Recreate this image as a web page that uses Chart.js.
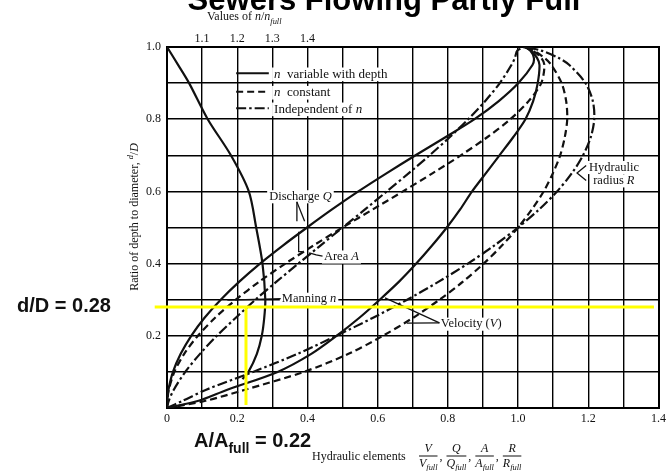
<!DOCTYPE html>
<html><head><meta charset="utf-8">
<script src="https://cdn.jsdelivr.net/npm/chart.js@4.4.1/dist/chart.umd.min.js"></script>
<style>html,body{margin:0;padding:0;background:#fff}canvas{display:block}</style>
</head><body>
<canvas id="c" width="670" height="471"></canvas>
<script>
// ---- data ----
const depthRatio       = [0, 0.02, 0.05, 0.10, 0.15, 0.20, 0.25, 0.30, 0.35, 0.40, 0.45, 0.50, 0.55, 0.60, 0.65, 0.70, 0.75, 0.80, 0.85, 0.90, 0.95, 0.97, 0.99, 1.00];
const dischargeNVar    = [0, 0.001, 0.004, 0.017, 0.039, 0.069, 0.107, 0.153, 0.206, 0.265, 0.330, 0.399, 0.470, 0.545, 0.625, 0.708, 0.793, 0.876, 0.945, 1.001, 1.041, 1.045, 1.035, 1.02];
const dischargeNConst  = [0, 0.001, 0.005, 0.021, 0.049, 0.088, 0.137, 0.196, 0.263, 0.337, 0.417, 0.500, 0.586, 0.672, 0.756, 0.837, 0.912, 0.978, 1.030, 1.066, 1.075, 1.066, 1.042, 1.02];
const areaA            = [0, 0.005, 0.019, 0.052, 0.094, 0.142, 0.196, 0.252, 0.312, 0.374, 0.437, 0.500, 0.564, 0.626, 0.688, 0.748, 0.805, 0.858, 0.906, 0.948, 0.981, 0.991, 0.998, 1.02];
const velocityNVar     = [0, 0.090, 0.170, 0.315, 0.411, 0.483, 0.548, 0.606, 0.661, 0.710, 0.755, 0.797, 0.835, 0.869, 0.908, 0.947, 0.986, 1.021, 1.043, 1.056, 1.061, 1.054, 1.036, 1.02];
const velocityNConst   = [0, 0.110, 0.220, 0.390, 0.517, 0.615, 0.701, 0.776, 0.843, 0.902, 0.954, 1.000, 1.039, 1.073, 1.099, 1.120, 1.133, 1.140, 1.137, 1.124, 1.095, 1.075, 1.044, 1.02];
const hydraulicRadiusR = [0, 0.045, 0.110, 0.245, 0.372, 0.482, 0.587, 0.684, 0.774, 0.857, 0.932, 1.000, 1.060, 1.111, 1.153, 1.185, 1.207, 1.217, 1.213, 1.192, 1.146, 1.115, 1.066, 1.02];
const manningDepth     = [1.00, 0.95, 0.90, 0.80, 0.70, 0.60, 0.50, 0.40, 0.30, 0.25, 0.20, 0.15, 0.10, 0.08];
const manningNRatio    = [1.000, 1.032, 1.063, 1.116, 1.182, 1.233, 1.254, 1.272, 1.280, 1.277, 1.270, 1.256, 1.232, 1.215];

const xTickLabels   = ['0', '', '0.2', '', '0.4', '', '0.6', '', '0.8', '', '1.0', '', '1.2', '', '1.4'];
const yTickLabels   = ['', '', '0.2', '', '0.4', '', '0.6', '', '0.8', '', '1.0'];
const topTickLabels = ['', '1.1', '1.2', '1.3', '1.4'];

const markDepth = 0.28;   // d/D
const markArea  = 0.225;  // A/Afull read on the chart

// ---- helpers ----
const pts = (xs, ys) => xs.map((v, i) => ({x: v, y: ys[i]}));
const INK = '#111';
const DASH = [7, 4];
const DASHDOT = [10, 3, 2.5, 3];

function segFont(s, size, fam) {
  const sz = (s.sub || s.sup) ? size * 0.7 : size;
  return `${s.it ? 'italic ' : ''}${s.b ? 'bold ' : ''}${sz}px ${fam || '"Liberation Serif", serif'}`;
}
function measureRich(ctx, segs, size, fam) {
  let w = 0;
  for (const s of segs) { ctx.font = segFont(s, size, fam); w += ctx.measureText(s.t).width; }
  return w;
}
function drawRich(ctx, segs, x, yBase, size, bg, fam) {
  const w = measureRich(ctx, segs, size, fam);
  if (bg) { ctx.fillStyle = '#fff'; ctx.fillRect(x - 2, yBase - size * 0.78, w + 4, size * 1.05); }
  ctx.fillStyle = INK; ctx.textAlign = 'left'; ctx.textBaseline = 'alphabetic';
  let cx = x;
  for (const s of segs) {
    ctx.font = segFont(s, size, fam);
    const dy = s.sub ? size * 0.3 : (s.sup ? -size * 0.38 : 0);
    ctx.fillText(s.t, cx, yBase + dy);
    cx += ctx.measureText(s.t).width;
  }
  return w;
}

// ---- annotation layout (data units) ----
const legendRows = [
  {y: 0.927, dash: [], segs: [{t: 'n', it: true}, {t: '  variable with depth'}]},
  {y: 0.876, dash: DASH, segs: [{t: 'n', it: true}, {t: '  constant'}]},
  {y: 0.830, dash: DASHDOT, segs: [{t: 'Independent of '}, {t: 'n', it: true}]}
];
const legendSampleX = [0.197, 0.290];
const legendTextX = 0.305;

const notes = [
  {x: 0.291, y: 0.588, segs: [{t: 'Discharge '}, {t: 'Q', it: true}]},
  {x: 0.447, y: 0.421, segs: [{t: 'Area '}, {t: 'A', it: true}]},
  {x: 0.327, y: 0.304, segs: [{t: 'Manning '}, {t: 'n', it: true}]},
  {x: 0.780, y: 0.235, segs: [{t: 'Velocity ('}, {t: 'V', it: true}, {t: ')'}]},
  {x: 1.202, y: 0.669, segs: [{t: 'Hydraulic'}]},
  {x: 1.214, y: 0.632, segs: [{t: 'radius '}, {t: 'R', it: true}]}
];
const leaders = [
  [[0.370, 0.571], [0.370, 0.517]],
  [[0.370, 0.571], [0.392, 0.517]],
  [[0.375, 0.488], [0.375, 0.433], [0.386, 0.433]],
  [[0.405, 0.430], [0.425, 0.424], [0.443, 0.421]],
  [[0.172, 0.299], [0.324, 0.303]],
  [[0.621, 0.305], [0.776, 0.236]],
  [[0.683, 0.235], [0.776, 0.236]],
  [[1.194, 0.672], [1.168, 0.651], [1.194, 0.630]]
];

const overlay = {
  id: 'overlay',
  afterDatasetsDraw(chart) {
    const {ctx, scales: {x, y}} = chart;
    const P = (a, b) => [x.getPixelForValue(a), y.getPixelForValue(b)];
    ctx.save();
    for (const r of legendRows) {
      const [x1, yy] = P(legendSampleX[0], r.y);
      const [x2] = P(legendSampleX[1], r.y);
      ctx.strokeStyle = INK; ctx.lineWidth = 2; ctx.setLineDash(r.dash);
      ctx.beginPath(); ctx.moveTo(x1, yy); ctx.lineTo(x2, yy); ctx.stroke();
      ctx.setLineDash([]);
      const [tx] = P(legendTextX, r.y);
      drawRich(ctx, r.segs, tx, yy + 4.3, 13, true);
    }
    for (const n of notes) {
      const [px, py] = P(n.x, n.y);
      drawRich(ctx, n.segs, px, py + 4.2, 12.5, true);
    }
    ctx.strokeStyle = INK; ctx.lineWidth = 1.3; ctx.setLineDash([]);
    for (const l of leaders) {
      ctx.beginPath();
      l.forEach((p, i) => { const [px, py] = P(p[0], p[1]); i ? ctx.lineTo(px, py) : ctx.moveTo(px, py); });
      ctx.stroke();
    }
    ctx.restore();
  },
  afterDraw(chart) {
    const {ctx, scales: {x, y}} = chart;
    ctx.save();
    ctx.strokeStyle = '#ffff00'; ctx.lineWidth = 3;
    ctx.beginPath();
    ctx.moveTo(x.getPixelForValue(-0.035), y.getPixelForValue(markDepth));
    ctx.lineTo(x.getPixelForValue(1.387), y.getPixelForValue(markDepth));
    ctx.moveTo(x.getPixelForValue(markArea), y.getPixelForValue(markDepth));
    ctx.lineTo(x.getPixelForValue(markArea), y.getPixelForValue(0.008));
    ctx.stroke();

    ctx.fillStyle = '#000'; ctx.textAlign = 'center'; ctx.textBaseline = 'alphabetic';
    ctx.font = 'bold 31px "Liberation Sans", Arial, sans-serif';
    ctx.fillText('Sewers Flowing Partly Full', 384, 10);

    drawRich(ctx, [{t: 'Values of '}, {t: 'n', it: true}, {t: '/'}, {t: 'n', it: true}, {t: 'full', it: true, sub: true}], 207, 20, 12);

    ctx.save();
    ctx.translate(134, 217); ctx.rotate(-Math.PI / 2);
    const ySegs = [{t: 'Ratio of depth to diameter, '}, {t: 'd', it: true, sup: true}, {t: '/'}, {t: 'D', it: true}];
    const yw = measureRich(ctx, ySegs, 12);
    drawRich(ctx, ySegs, -yw / 2, 4, 12);
    ctx.restore();

    const sans = '"Liberation Sans", Arial, sans-serif';
    drawRich(ctx, [{t: 'd/D = 0.28', b: true}], 17, 312, 20, false, sans);
    drawRich(ctx, [{t: 'A/A', b: true}, {t: 'full', b: true, sub: true}, {t: ' = 0.22', b: true}], 194, 447, 20, false, sans);

    drawRich(ctx, [{t: 'Hydraulic elements'}], 312, 460, 12);
    let fx = 419;
    const fr = ['V', 'Q', 'A', 'R'];
    fr.forEach((L, i) => {
      ctx.font = 'italic 12px "Liberation Serif", serif';
      const lw = ctx.measureText(L).width;
      ctx.font = 'italic 8.4px "Liberation Serif", serif';
      const sw = ctx.measureText('full').width;
      const w = lw + sw;
      ctx.fillStyle = INK;
      ctx.font = 'italic 12px "Liberation Serif", serif';
      ctx.textAlign = 'center';
      ctx.fillText(L, fx + w / 2, 452);
      ctx.textAlign = 'left';
      ctx.fillText(L, fx, 467);
      ctx.font = 'italic 8.4px "Liberation Serif", serif';
      ctx.fillText('full', fx + lw, 470);
      ctx.fillRect(fx, 455.5, w, 1);
      fx += w;
      if (i < fr.length - 1) {
        ctx.font = '12px "Liberation Serif", serif';
        ctx.fillText(',', fx + 2, 460);
        fx += 9;
      }
    });
    ctx.restore();
  }
};

const line = (data, dash, axis) => ({
  data, showLine: true, pointRadius: 0, borderColor: INK, borderWidth: 2.2,
  borderDash: dash, tension: 0.3, fill: false, xAxisID: axis || 'x', yAxisID: 'y'
});

Chart.defaults.font.family = '"Liberation Serif", serif';
Chart.defaults.color = INK;

new Chart(document.getElementById('c'), {
  type: 'scatter',
  data: {
    datasets: [
      line(pts(manningNRatio, manningDepth), [], 'x2'),
      line(pts(dischargeNVar, depthRatio), []),
      line(pts(dischargeNConst, depthRatio), DASH),
      line(pts(areaA, depthRatio), DASHDOT),
      line(pts(velocityNVar, depthRatio), []),
      line(pts(velocityNConst, depthRatio), DASH),
      line(pts(hydraulicRadiusR, depthRatio), DASHDOT)
    ]
  },
  options: {
    responsive: false, animation: false, devicePixelRatio: 1,
    layout: {padding: 0},
    plugins: {legend: {display: false}, tooltip: {enabled: false}, title: {display: false}},
    scales: {
      x: {
        type: 'linear', position: 'bottom', min: 0, max: 1.4,
        grid: {color: '#000', lineWidth: 1.4, drawTicks: false},
        border: {display: true, color: '#000', width: 2},
        ticks: {stepSize: 0.1, autoSkip: false, maxRotation: 0, padding: 4,
                font: {size: 12}, callback: (v, i) => xTickLabels[i] ?? ''},
        afterFit: s => { s.height = 63; }
      },
      x2: {
        type: 'linear', position: 'top', min: 1.0, max: 2.4,
        grid: {display: false, drawTicks: false},
        border: {display: true, color: '#000', width: 2},
        ticks: {stepSize: 0.1, autoSkip: false, maxRotation: 0, padding: 1,
                font: {size: 12}, callback: (v, i) => topTickLabels[i] ?? ''},
        afterFit: s => { s.height = 47; }
      },
      y: {
        type: 'linear', position: 'left', min: 0, max: 1.0,
        grid: {color: '#000', lineWidth: 1.4, drawTicks: false},
        border: {display: true, color: '#000', width: 2},
        ticks: {stepSize: 0.1, autoSkip: false, padding: 6,
                font: {size: 12}, callback: (v, i) => yTickLabels[i] ?? ''},
        afterFit: s => { s.width = 167; }
      },
      y2: {
        type: 'linear', position: 'right', min: 0, max: 1.0,
        grid: {display: false, drawTicks: false},
        border: {display: true, color: '#000', width: 2},
        ticks: {display: false},
        afterFit: s => { s.width = 7; }
      }
    }
  },
  plugins: [overlay]
});
</script>
</body></html>
